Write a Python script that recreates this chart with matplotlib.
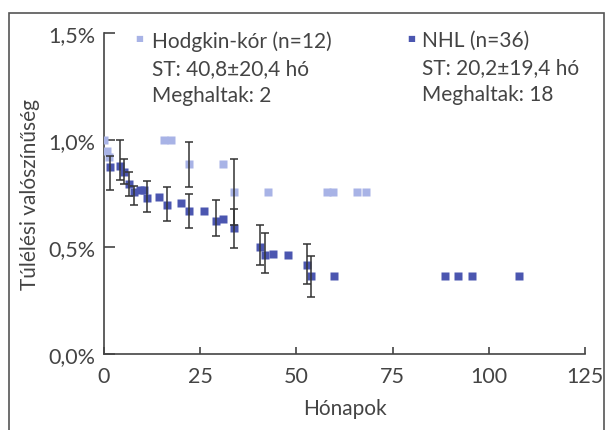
import numpy as np
import matplotlib
matplotlib.use("Agg")
import matplotlib.pyplot as plt
from matplotlib.patches import Rectangle

plt.rcParams['font.family'] = ['Lato', 'DejaVu Sans']

# Hodgkin-kor (light) points: months, survival (%)
hl_month = [0.0, 0.7, 1.3, 15.7, 17.3, 22.2, 30.8, 33.9, 42.7, 58.0, 59.6, 65.8, 68.1]
hl_surv = [1.0, 0.951, 0.923, 1.0, 1.0, 0.89, 0.89, 0.759, 0.759, 0.759, 0.759, 0.759, 0.759]

# NHL (dark) points
nhl_month = [1.5, 4.1, 5.1, 6.4, 7.7, 9.3, 10.3, 11.1, 14.4, 16.3, 19.9, 22.2, 26.1,
             29.0, 31.0, 33.9, 40.6, 41.9, 44.0, 47.9, 52.8, 53.9, 59.8,
             88.6, 92.0, 95.6, 107.8]
nhl_surv = [0.876, 0.88, 0.852, 0.796, 0.759, 0.768, 0.768, 0.731, 0.735, 0.698, 0.707,
            0.670, 0.670, 0.623, 0.632, 0.590, 0.501, 0.464, 0.468, 0.464, 0.417,
            0.365, 0.365, 0.365, 0.365, 0.365, 0.365]

# error bars: month, centre, low, high
eb_month = [1.5, 4.1, 5.1, 6.4, 7.7, 11.1, 16.3, 22.2, 22.2, 29.0, 33.9, 33.9, 40.6, 41.9, 52.8, 53.9]
eb_mid = [0.876, 0.88, 0.852, 0.796, 0.759, 0.731, 0.698, 0.89, 0.670, 0.623, 0.759, 0.590,
          0.501, 0.464, 0.417, 0.365]
eb_low = [0.768, 0.815, 0.796, 0.740, 0.698, 0.665, 0.623, 0.782, 0.590, 0.553, 0.604, 0.497,
          0.417, 0.379, 0.328, 0.268]
eb_high = [0.927, 1.0, 0.913, 0.852, 0.787, 0.810, 0.782, 0.993, 0.749, 0.721, 0.913, 0.679,
           0.604, 0.567, 0.515, 0.460]

yticks = [0.0, 0.5, 1.0, 1.5]
yticklabels = ["0,0%", "0,5%", "1,0%", "1,5%"]
xticks = [0, 25, 50, 75, 100, 125]

light = "#a8b3e6"
dark = "#4b56b0"
txt = "#444444"

fig = plt.figure(figsize=(6.07, 4.31), dpi=100)
ax = fig.add_axes([104 / 607, 1 - 355 / 431, (585 - 104) / 607, (355 - 34.3) / 431])

ax.plot(nhl_month, nhl_surv, "s", color=dark, ms=6, mec="none", zorder=3)
ax.plot(hl_month, hl_surv, "s", color=light, ms=6, mec="none", zorder=4)

mid = np.array(eb_mid)
yerr = [mid - np.array(eb_low), np.array(eb_high) - mid]
ax.errorbar(eb_month, mid, yerr=yerr, fmt="none", ecolor="#333333", elinewidth=1.1,
            capsize=3, capthick=1.1, zorder=5)

ax.set_xlim(0, 125)
ax.set_ylim(0, 1.5)
ax.set_xticks(xticks)
ax.set_yticks(yticks)
ax.set_yticklabels(yticklabels)
for s in ["top", "right"]:
    ax.spines[s].set_visible(False)
for s in ["left", "bottom"]:
    ax.spines[s].set_color("#444444")
    ax.spines[s].set_linewidth(1.2)
ax.tick_params(axis="y", direction="in", length=8, width=1.2, color="#444444",
               labelsize=15.5, labelcolor=txt, pad=6)
ax.tick_params(axis="x", direction="in", length=5, width=1.2, color="#444444",
               labelsize=15.5, labelcolor=txt, pad=9)

ax.set_xlabel("Hónapok", fontsize=15, color=txt, labelpad=8)
ax.set_ylabel("Túlélési valószínűség", fontsize=15, color=txt, labelpad=6)

# legend texts
fig.text(139 / 607, 1 - 38 / 431, "■", fontsize=6, color=light, ha="center", va="center")
fig.text(152 / 607, 1 - 31 / 431, "Hodgkin-kór (n=12)\nST: 40,8±20,4 hó\nMeghaltak: 2",
         fontsize=15, color=txt, ha="left", va="top", linespacing=1.45)
fig.text(411 / 607, 1 - 38 / 431, "■", fontsize=6, color=dark, ha="center", va="center")
fig.text(422 / 607, 1 - 31 / 431, "NHL (n=36)\nST: 20,2±19,4 hó\nMeghaltak: 18",
         fontsize=15, color=txt, ha="left", va="top", linespacing=1.45)

# outer frame
fig.patches.append(Rectangle((9 / 607, -0.02), (604 - 9) / 607, 1 - 14 / 431 + 0.02,
                             transform=fig.transFigure, fill=False, ec="#555555", lw=1.2))

fig.savefig("out.png", dpi=100)
